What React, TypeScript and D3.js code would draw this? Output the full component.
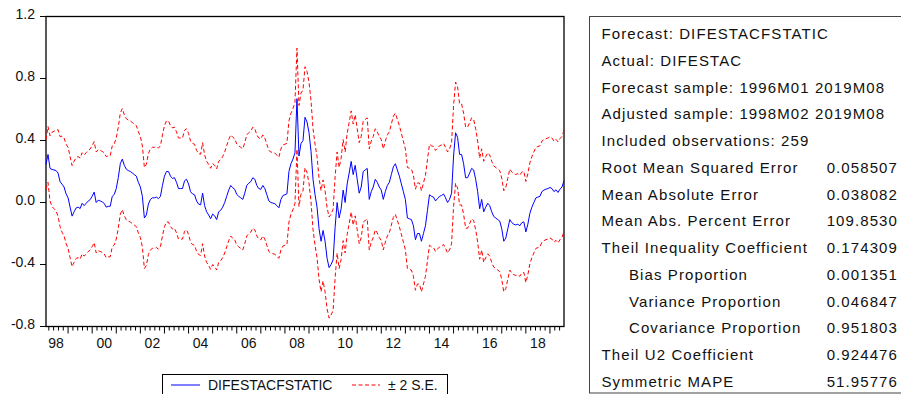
import React, { useEffect, useRef } from 'react';
import * as d3 from 'd3';

// monthly static forecast, 1998M02 .. 2019M08 (259 obs)
const forecast1998 = [0.245, 0.31, 0.22, 0.213, 0.21, 0.206, 0.19, 0.135, 0.118, 0.10, 0.056];
const forecast1999 = [0.03, -0.03, -0.088, -0.06, -0.035, -0.03, -0.039, -0.005, -0.02, -0.005, 0.009, 0.019];
const forecast2000 = [0.041, 0.067, 0.0, 0.015, 0.01, 0.004, -0.006, -0.03, -0.025, -0.024, 0.04, 0.052];
const forecast2001 = [0.09, 0.16, 0.25, 0.28, 0.24, 0.215, 0.206, 0.20, 0.19, 0.18, 0.17, 0.13];
const forecast2002 = [0.10, 0.04, -0.10, -0.08, -0.01, 0.02, 0.03, 0.03, 0.035, 0.025, 0.04, 0.11];
const forecast2003 = [0.17, 0.20, 0.20, 0.17, 0.155, 0.16, 0.13, 0.09, 0.09, 0.09, 0.14, 0.15];
const forecast2004 = [0.12, 0.07, 0.055, 0.05, 0.01, -0.01, -0.015, 0.06, -0.02, -0.06, -0.08, -0.105];
const forecast2005 = [-0.075, -0.086, -0.11, -0.06, -0.05, -0.03, 0.0, 0.04, 0.08, 0.11, 0.095, 0.085];
const forecast2006 = [0.052, 0.04, 0.03, 0.02, 0.06, 0.11, 0.125, 0.135, 0.16, 0.15, 0.11, 0.09];
const forecast2007 = [0.085, 0.11, 0.09, 0.05, 0.01, 0.0, -0.004, -0.008, -0.02, -0.034, 0.02, 0.045];
const forecast2008 = [0.05, 0.056, 0.20, 0.25, 0.28, 0.32, 0.67, 0.30, 0.38, 0.40, 0.55, 0.52];
const forecast2009 = [0.45, 0.33, 0.15, 0.05, -0.03, -0.17, -0.25, -0.18, -0.25, -0.36, -0.42, -0.40];
const forecast2010 = [-0.37, -0.16, 0.0, -0.1, -0.04, 0.08, 0.0, 0.12, 0.19, 0.265, 0.18, 0.24];
const forecast2011 = [0.15, 0.06, 0.10, 0.20, 0.21, 0.22, 0.02, 0.07, 0.10, 0.15, 0.13, 0.10];
const forecast2012 = [0.08, 0.02, 0.07, 0.11, 0.13, 0.18, 0.23, 0.25, 0.21, 0.17, 0.12, 0.07];
const forecast2013 = [0.02, -0.10, -0.105, -0.11, -0.15, -0.24, -0.2, -0.2, -0.25, -0.2, -0.15, -0.05];
const forecast2014 = [0.05, 0.04, 0.035, 0.01, 0.025, 0.04, 0.045, 0.055, 0.03, 0.0, 0.02, 0.06];
const forecast2015 = [0.30, 0.45, 0.42, 0.31, 0.31, 0.25, 0.16, 0.16, 0.19, 0.22, 0.21, 0.15];
const forecast2016 = [0.07, -0.04, 0.02, -0.06, -0.03, -0.005, -0.02, -0.06, -0.09, -0.10, -0.11, -0.12];
const forecast2017 = [-0.17, -0.25, -0.23, -0.17, -0.11, -0.13, -0.14, -0.145, -0.14, -0.15, -0.13, -0.125];
const forecast2018 = [-0.19, -0.14, -0.07, -0.03, 0.0, 0.03, 0.035, 0.04, 0.07, 0.08, 0.086, 0.09];
const forecast2019 = [0.097, 0.09, 0.07, 0.082, 0.065, 0.086, 0.1, 0.14];

// forecast standard error: first months of the sample, then flat
const seFirstMonths = [0.08, 0.09, 0.105, 0.12, 0.125, 0.13, 0.14, 0.145, 0.155, 0.158, 0.16];
const seLater = 0.163;

const yTicks = [-0.8, -0.4, 0.0, 0.4, 0.8, 1.2];
const labelYears = [1998, 2000, 2002, 2004, 2006, 2008, 2010, 2012, 2014, 2016, 2018];
const yearLabels = ['98', '00', '02', '04', '06', '08', '10', '12', '14', '16', '18'];

const statLabels = [
  'Forecast: DIFESTACFSTATIC', 'Actual: DIFESTAC', 'Forecast sample: 1996M01 2019M08',
  'Adjusted sample: 1998M02 2019M08', 'Included observations: 259',
  'Root Mean Squared Error', 'Mean Absolute Error', 'Mean Abs. Percent Error',
  'Theil Inequality Coefficient', 'Bias Proportion', 'Variance Proportion',
  'Covariance Proportion', 'Theil U2 Coefficient', 'Symmetric MAPE',
];
const statValues = ['', '', '', '', '', '0.058507', '0.038082', '109.8530', '0.174309',
  '0.001351', '0.046847', '0.951803', '0.924476', '51.95776'];
const statIndented = [9, 10, 11];

const FONT = '"Liberation Sans", Arial, sans-serif';

export default () => {
  const svgRef = useRef<SVGSVGElement>(null);

  useEffect(() => {
    if (!svgRef.current) return;
    const svg = d3.select(svgRef.current);
    svg.selectAll('*').remove();

    const values = [
      ...forecast1998, ...forecast1999, ...forecast2000, ...forecast2001, ...forecast2002,
      ...forecast2003, ...forecast2004, ...forecast2005, ...forecast2006, ...forecast2007,
      ...forecast2008, ...forecast2009, ...forecast2010, ...forecast2011, ...forecast2012,
      ...forecast2013, ...forecast2014, ...forecast2015, ...forecast2016, ...forecast2017,
      ...forecast2018, ...forecast2019,
    ];
    const data = values.map((v, i) => {
      const se = i < seFirstMonths.length ? seFirstMonths[i] : seLater;
      return { t: 1998 + (1 + i) / 12, f: v, up: v + 2 * se, lo: v - 2 * se };
    });

    const left = 46, right = 564, top = 16.5, bottom = 326.5;
    const x = d3.scaleLinear().domain([data[0].t, data[data.length - 1].t]).range([left, right]);
    const y = d3.scaleLinear().domain([-0.8, 1.2]).range([bottom, top]);
    const fmt = (v: number) => d3.format('.1f')(v).replace('\u2212', '-');

    // frame
    svg.append('rect')
      .attr('x', left).attr('y', top)
      .attr('width', right - left).attr('height', bottom - top)
      .attr('fill', 'none').attr('stroke', '#000').attr('stroke-width', 1.3);

    // y axis ticks
    const yg = svg.append('g');
    yTicks.forEach(v => {
      yg.append('line').attr('x1', left - 6).attr('x2', left)
        .attr('y1', y(v)).attr('y2', y(v)).attr('stroke', '#000');
      yg.append('text').attr('x', 35).attr('y', y(v) + 2)
        .attr('text-anchor', 'end').attr('font-family', FONT).attr('font-size', 14)
        .attr('fill', '#111').text(fmt(v));
    });

    // x axis ticks: major each January, minor every fifth of a year
    const xg = svg.append('g');
    for (let yr = 1998; yr <= 2019; yr++) {
      for (let k = 0; k < 5; k++) {
        const t = yr + k / 5;
        if (t < data[0].t || t > data[data.length - 1].t) continue;
        xg.append('line').attr('x1', x(t)).attr('x2', x(t))
          .attr('y1', bottom).attr('y2', bottom + (k === 0 ? 7 : 4)).attr('stroke', '#000');
      }
    }
    labelYears.forEach((yr, i) => {
      xg.append('text').attr('x', x(yr + 0.5)).attr('y', 348)
        .attr('text-anchor', 'middle').attr('font-family', FONT).attr('font-size', 14)
        .attr('fill', '#111').text(yearLabels[i]);
    });

    const line = (key: 'f' | 'up' | 'lo') =>
      d3.line<any>().x(d => x(d.t)).y(d => y(d[key]));

    svg.append('path').attr('d', line('up')(data)).attr('fill', 'none')
      .attr('stroke', '#ff0000').attr('stroke-width', 1).attr('stroke-dasharray', '4 2.5');
    svg.append('path').attr('d', line('lo')(data)).attr('fill', 'none')
      .attr('stroke', '#ff0000').attr('stroke-width', 1).attr('stroke-dasharray', '4 2.5');
    svg.append('path').attr('d', line('f')(data)).attr('fill', 'none')
      .attr('stroke', '#0000ff').attr('stroke-width', 1);

    // legend
    const lg = svg.append('g');
    lg.append('rect').attr('x', 162.5).attr('y', 374.5).attr('width', 285).attr('height', 30)
      .attr('fill', '#fff').attr('stroke', '#000');
    lg.append('line').attr('x1', 171).attr('x2', 200).attr('y1', 385).attr('y2', 385)
      .attr('stroke', '#0000ff');
    lg.append('text').attr('x', 208).attr('y', 389.5).attr('font-family', FONT)
      .attr('font-size', 14).attr('fill', '#111').text('DIFESTACFSTATIC');
    lg.append('line').attr('x1', 352).attr('x2', 380).attr('y1', 385).attr('y2', 385)
      .attr('stroke', '#ff0000').attr('stroke-dasharray', '4 2.5');
    lg.append('text').attr('x', 388).attr('y', 389.5).attr('font-family', FONT)
      .attr('font-size', 14).attr('fill', '#111').text('\u00b1 2 S.E.');

    // statistics box
    const sg = svg.append('g');
    sg.append('rect').attr('x', 589.5).attr('y', 16.5).attr('width', 320).attr('height', 376.5)
      .attr('fill', '#fff').attr('stroke', '#444');
    statLabels.forEach((s, i) => {
      const by = 39 + i * 26.77;
      sg.append('text').attr('x', statIndented.includes(i) ? 629 : 601.5).attr('y', by)
        .attr('font-family', FONT).attr('font-size', 15).attr('letter-spacing', 1.1)
        .attr('fill', '#111').text(s);
      if (statValues[i]) {
        sg.append('text').attr('x', 898).attr('y', by).attr('text-anchor', 'end')
          .attr('font-family', FONT).attr('font-size', 15).attr('letter-spacing', 1.1)
          .attr('fill', '#111').text(statValues[i]);
      }
    });
  }, []);

  return (
    <svg ref={svgRef} width={901} height={394}
      style={{ position: 'absolute', left: 0, top: 0, background: '#fff' }} />
  );
};
